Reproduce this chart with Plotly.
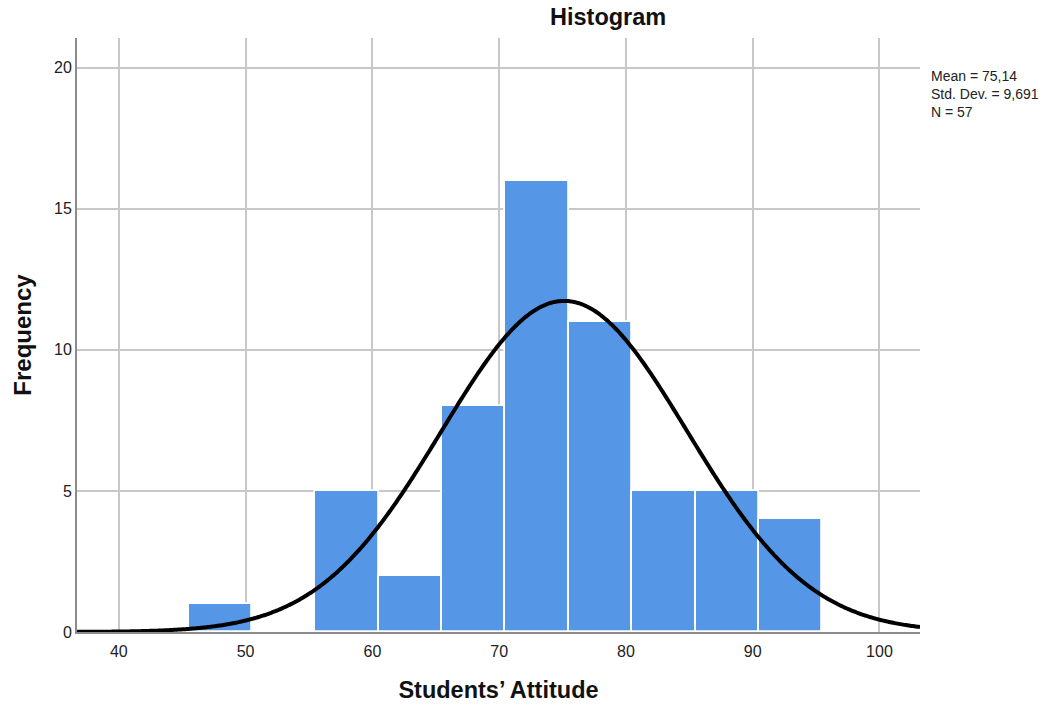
import numpy as np
import plotly.graph_objects as go

# Data
bin_centers = [48, 53, 58, 63, 68, 73, 78, 83, 88, 93]
frequencies = [1, 0, 5, 2, 8, 16, 11, 5, 5, 4]
bin_width = 5
mean_val = 75.14
std_val = 9.691
n_val = 57
x_ticks = [40, 50, 60, 70, 80, 90, 100]
y_ticks = [0, 5, 10, 15, 20]
stats_lines = ["Mean = 75,14", "Std. Dev. = 9,691", "N = 57"]

FONT = "Arial, Liberation Sans, sans-serif"

W, H = 1063, 707
L, T, R, B = 77, 38, 1063 - 920, 707 - 632
PW = W - L - R
PH = H - T - B

x_range = [36.7, 103.2]
xs = np.linspace(x_range[0], x_range[1], 600)
ys = n_val * bin_width / (std_val * np.sqrt(2 * np.pi)) * np.exp(-0.5 * ((xs - mean_val) / std_val) ** 2)

fig = go.Figure()
fig.add_trace(go.Bar(
    x=bin_centers, y=frequencies, width=bin_width,
    marker=dict(color="#5596E6", line=dict(color="white", width=1.8)),
    hoverinfo="x+y", showlegend=False,
))
fig.add_trace(go.Scatter(
    x=xs, y=ys, mode="lines",
    line=dict(color="black", width=4, simplify=False),
    showlegend=False, hoverinfo="skip",
))

fig.update_layout(
    width=W, height=H,
    margin=dict(l=L, r=R, t=T, b=B, autoexpand=False),
    paper_bgcolor="white", plot_bgcolor="white",
    font=dict(family=FONT, size=16, color="#222"),
    bargap=0,
    xaxis=dict(
        range=x_range, tickvals=x_ticks, showgrid=True, gridcolor="#c8c8c8", gridwidth=1.5,
        showline=True, linecolor="#8c8c8c", linewidth=2, zeroline=False, automargin=False,
        ticks="", ticklabelstandoff=4, tickfont=dict(size=16, family=FONT, color="#222"),
        title=dict(text="<b>Students’ Attitude</b>", font=dict(size=23.5, family=FONT, color="#111"), standoff=22),
    ),
    yaxis=dict(
        range=[0, 21.05], tickvals=y_ticks, showgrid=True, gridcolor="#c8c8c8", gridwidth=1.5,
        showline=True, linecolor="#8c8c8c", linewidth=2, zeroline=False, automargin=False,
        ticks="", tickfont=dict(size=16, family=FONT, color="#222"),
        title=dict(text="<b>Frequency</b>", font=dict(size=24, family=FONT, color="#111"), standoff=16),
    ),
    annotations=[
        dict(text="<b>Histogram</b>", xref="paper", yref="paper", x=(608 - 77) / PW, y=1,
             yanchor="bottom", xanchor="center", yshift=6, showarrow=False,
             font=dict(size=23.5, family=FONT, color="#111")),
        dict(text="<br>".join(stats_lines),
             xref="paper", yref="paper", x=1, y=(632 - 66) / PH,
             xanchor="left", yanchor="top", xshift=9, align="left", showarrow=False,
             font=dict(size=14, family=FONT, color="#222")),
    ],
)
fig.write_html(
    "out.html",
    config={"displayModeBar": False},
    post_script="document.body.style.margin='0';document.body.style.overflow='hidden';",
)
